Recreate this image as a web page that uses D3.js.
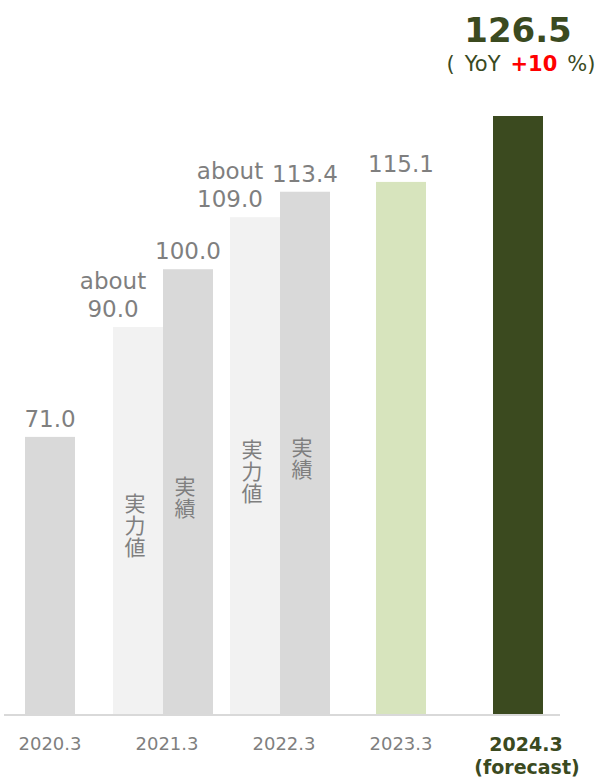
<!DOCTYPE html>
<html>
<head>
<meta charset="utf-8">
<script src="https://cdn.jsdelivr.net/npm/d3@7"></script>
<style>
	html, body { margin: 0; padding: 0; background: #fff; }
	svg { display: block; }
</style>
</head>
<body>
<svg id="svgArea"></svg>
<script>
const w = 606;
const h = 780;

// data
const categories = ['2020.3', '2021.3', '2022.3', '2023.3', '2024.3'];
const results = [71.0, 100.0, 113.4, 115.1, 126.5];      // 実績
const underlying = [null, 90.0, 109.0, null, null];       // 実力値 (about)
const forecastLabel = '(forecast)';
const yoyPct = 10;

const grey = '#7f7f7f';
const olive = '#3b4a1f';
const barFill = ['#d9d9d9', '#d9d9d9', '#d9d9d9', '#d7e4bd', olive];
const lightFill = '#f2f2f2';
const latin = '"DejaVu Sans", Verdana, sans-serif';
const cjk = '"Noto Sans CJK JP", "Noto Sans CJK SC", sans-serif';
const barW = 50;
const pairShift = -4;

const svg = d3.select('#svgArea').attr('width', w).attr('height', h);

const x = d3.scalePoint().domain(categories).range([50, 518]);
// the original is not drawn from zero, so the base value is fitted to its bar heights
const y = d3.scaleLinear().domain([22.9, 126.5]).range([715, 116]);
const base = y.range()[0];

let bars = [];
categories.forEach((c, i) => {
	const cx = x(c);
	if (underlying[i] != null) {
		bars.push({cat: c, i: i, kind: 'under', v: underlying[i], x0: cx - barW + pairShift, fill: lightFill, tag: '実力値'});
		bars.push({cat: c, i: i, kind: 'result', v: results[i], x0: cx + pairShift, fill: barFill[i], tag: '実績'});
	} else {
		bars.push({cat: c, i: i, kind: 'single', v: results[i], x0: cx - barW / 2, fill: barFill[i]});
	}
});

svg.selectAll('rect.bar')
	.data(bars)
	.enter()
	.append('rect')
	.attr('class', 'bar')
	.attr('x', d => d.x0)
	.attr('y', d => y(d.v))
	.attr('width', barW)
	.attr('height', d => base - y(d.v))
	.attr('fill', d => d.fill);

// baseline
svg.append('line')
	.attr('x1', 4).attr('x2', 560)
	.attr('y1', base).attr('y2', base)
	.attr('stroke', '#d9d9d9')
	.attr('stroke-width', 2);

// value labels
const last = categories.length - 1;
bars.forEach(d => {
	const cx = d.x0 + barW / 2;
	const top = y(d.v);
	if (d.i === last) return;
	if (d.kind === 'under') {
		const t = svg.append('text')
			.attr('text-anchor', 'middle')
			.attr('font-family', latin)
			.attr('font-size', 23)
			.attr('fill', grey);
		t.append('tspan').attr('x', cx - 25).attr('y', top - 38).text('about');
		t.append('tspan').attr('x', cx - 25).attr('y', top - 10).text(d.v.toFixed(1));
	} else {
		svg.append('text')
			.attr('x', cx)
			.attr('y', top - 10)
			.attr('text-anchor', 'middle')
			.attr('font-family', latin)
			.attr('font-size', 23)
			.attr('fill', grey)
			.text(d.v.toFixed(1));
	}
});

// vertical tags inside the paired bars
bars.filter(d => d.tag).forEach(d => {
	const cx = d.x0 + barW / 2 - 3;
	const mid = (y(d.v) + base) / 2 + 5;
	svg.append('text')
		.attr('x', cx)
		.attr('y', mid)
		.attr('text-anchor', 'middle')
		.attr('font-family', cjk)
		.attr('font-size', 21)
		.attr('fill', grey)
		.style('writing-mode', 'vertical-rl')
		.style('text-orientation', 'upright')
		.attr('letter-spacing', 1)
		.text(d.tag);
});

// forecast header
const fTop = y(results[last]);
const fx = x(categories[last]);
svg.append('text')
	.attr('x', fx)
	.attr('y', fTop - 74)
	.attr('text-anchor', 'middle')
	.attr('font-family', latin)
	.attr('font-weight', 'bold')
	.attr('font-size', 34)
	.attr('fill', olive)
	.text(results[last].toFixed(1));

const yoy = svg.append('text')
	.attr('x', fx + 3)
	.attr('y', fTop - 45)
	.attr('text-anchor', 'middle')
	.attr('font-family', latin)
	.attr('font-size', 21)
	.attr('fill', olive);
yoy.append('tspan').text('(');
yoy.append('tspan').attr('dx', 10).text('YoY');
yoy.append('tspan').attr('dx', 10).attr('fill', '#ff0000').attr('font-weight', 'bold').text('+' + yoyPct);
yoy.append('tspan').attr('dx', 10).text('%)');

// category labels
categories.forEach((c, i) => {
	const t = svg.append('text')
		.attr('x', x(c))
		.attr('y', 750)
		.attr('text-anchor', 'middle')
		.attr('font-family', latin);
	if (i === last) {
		t.attr('font-size', 19).attr('font-weight', 'bold').attr('fill', olive);
		t.append('tspan').attr('x', x(c) + 8).attr('y', 751).text(c);
		t.append('tspan').attr('x', x(c) + 9).attr('y', 774).text(forecastLabel);
	} else {
		t.attr('font-size', 18).attr('fill', grey).text(c);
	}
});
</script>
</body>
</html>
